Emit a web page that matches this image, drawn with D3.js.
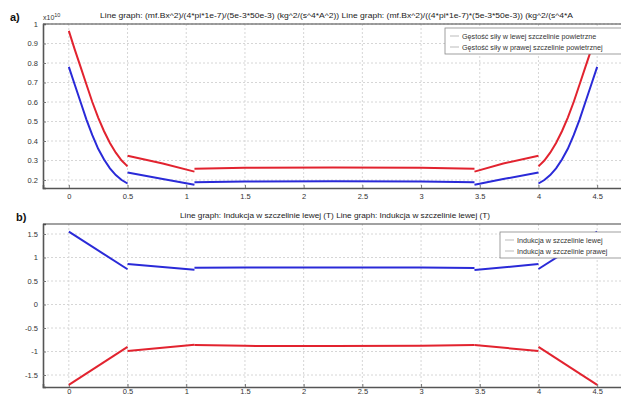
<!DOCTYPE html>
<html>
<head>
<meta charset="utf-8">
<script src="https://cdn.jsdelivr.net/npm/d3@7"></script>
<style>
  body { margin: 0; background: #fff; }
  svg text { font-family: "Liberation Sans", Arial, sans-serif; }
</style>
</head>
<body>
<svg id="chart" width="621" height="398"></svg>
<script>
// x ticks shared by both panels
const xTicks = [0, 0.5, 1, 1.5, 2, 2.5, 3, 3.5, 4, 4.5];

// panel a) force density (x10^10), pieces split at the gap edges
const yTicksTop = [0.2, 0.3, 0.4, 0.5, 0.6, 0.7, 0.8, 0.9, 1];
const forceLeft = [
  [[0, 0.78], [0.05, 0.69], [0.1, 0.6], [0.15, 0.51], [0.2, 0.43], [0.25, 0.36], [0.3, 0.305], [0.35, 0.26], [0.4, 0.225], [0.45, 0.2], [0.5, 0.182]],
  [[0.5, 0.238], [0.8, 0.205], [1.07, 0.176]],
  [[1.07, 0.188], [1.5, 0.192], [2.25, 0.193], [3.0, 0.192], [3.455, 0.188]],
  [[3.455, 0.176], [3.7, 0.205], [4.0, 0.238]],
  [[4.0, 0.182], [4.05, 0.2], [4.1, 0.225], [4.15, 0.26], [4.2, 0.305], [4.25, 0.36], [4.3, 0.43], [4.35, 0.51], [4.4, 0.6], [4.45, 0.69], [4.5, 0.78]]
];
const forceRight = [
  [[0, 0.965], [0.05, 0.87], [0.1, 0.78], [0.15, 0.69], [0.2, 0.6], [0.25, 0.52], [0.3, 0.45], [0.35, 0.39], [0.4, 0.34], [0.45, 0.3], [0.5, 0.27]],
  [[0.5, 0.324], [0.8, 0.285], [1.07, 0.243]],
  [[1.07, 0.258], [1.5, 0.263], [2.25, 0.264], [3.0, 0.263], [3.455, 0.258]],
  [[3.455, 0.243], [3.7, 0.285], [4.0, 0.324]],
  [[4.0, 0.27], [4.05, 0.3], [4.1, 0.34], [4.15, 0.39], [4.2, 0.45], [4.25, 0.52], [4.3, 0.6], [4.35, 0.69], [4.4, 0.78], [4.45, 0.87], [4.5, 0.965]]
];

// panel b) flux density (T)
const yTicksBottom = [-1.5, -1, -0.5, 0, 0.5, 1, 1.5];
const inductionLeft = [
  [[0, 1.55], [0.5, 0.75]],
  [[0.5, 0.86], [1.07, 0.74]],
  [[1.07, 0.78], [1.5, 0.785], [2.25, 0.785], [3.0, 0.785], [3.455, 0.776]],
  [[3.455, 0.735], [4.0, 0.86]],
  [[4.0, 0.755], [4.5, 1.55]]
];
const inductionRight = [
  [[0, -1.71], [0.5, -0.9]],
  [[0.5, -0.99], [1.07, -0.855]],
  [[1.07, -0.86], [1.5, -0.88], [2.25, -0.885], [3.0, -0.88], [3.455, -0.86]],
  [[3.455, -0.86], [4.0, -0.99]],
  [[4.0, -0.9], [4.5, -1.71]]
];

const titleTop = "Line graph: (mf.Bx^2)/(4*pi*1e-7)/(5e-3*50e-3) (kg^2/(s^4*A^2)) Line graph: (mf.Bx^2)/((4*pi*1e-7)*(5e-3*50e-3)) (kg^2/(s^4*A";
const titleBottom = "Line graph: Indukcja w szczelinie lewej (T) Line graph: Indukcja w szczelinie lewej (T)";
const legendTop = ["Gęstość siły w lewej szczelinie powietrzne", "Gęstość siły w prawej szczelinie powietrznej"];
const legendBottom = ["Indukcja w szczelinie lewej", "Indukcja w szczelinie prawej"];

const svg = d3.select("#chart");
const blue = "#2a2ad8";
const red = "#e2232f";

function drawPanel(opt) {
  const x = d3.scaleLinear().domain([-0.22, 4.72]).range([43, 623]);
  const y = d3.scaleLinear().domain(opt.yDomain).range([opt.bottom, opt.top]);
  const g = svg.append("g");

  // grid
  g.selectAll(".vg").data(xTicks).enter().append("line")
    .attr("x1", d => x(d)).attr("x2", d => x(d))
    .attr("y1", opt.top).attr("y2", opt.bottom)
    .attr("stroke", "#d6d6d6").attr("stroke-dasharray", "2,2");
  g.selectAll(".hg").data(opt.yTicks).enter().append("line")
    .attr("x1", 43).attr("x2", 621)
    .attr("y1", d => y(d)).attr("y2", d => y(d))
    .attr("stroke", "#d6d6d6").attr("stroke-dasharray", "2,2");

  // axes (plain hyphen minus, as in the original)
  const fmt = d => String(d);
  const xa = g.append("g").attr("transform", "translate(0," + opt.bottom + ")")
    .call(d3.axisBottom(x).tickValues(xTicks).tickSize(-3).tickPadding(opt.xPad).tickFormat(fmt));
  const ya = g.append("g").attr("transform", "translate(43,0)")
    .call(d3.axisLeft(y).tickValues(opt.yTicks).tickSize(-3).tickPadding(5).tickFormat(fmt));
  [xa, ya].forEach(a => {
    a.select(".domain").attr("stroke", "#555").attr("stroke-width", 1.6);
    a.selectAll(".tick line").attr("stroke", "#777");
    a.selectAll("text").attr("font-size", 7.5).attr("fill", "#333")
      .style("font-family", "'Liberation Sans', Arial, sans-serif");
  });
  g.append("line").attr("x1", 43).attr("x2", 621)
    .attr("y1", opt.top).attr("y2", opt.top)
    .attr("stroke", "#444").attr("stroke-width", 1.2);

  // series
  const line = d3.line().x(d => x(d[0])).y(d => y(d[1]));
  opt.series.forEach(s => {
    g.selectAll(null).data(s.pieces).enter().append("path")
      .attr("d", line).attr("fill", "none")
      .attr("stroke", s.color).attr("stroke-width", 2);
  });

  // title
  g.append("text").attr("x", opt.titleX).attr("y", opt.top - 6)
    .attr("font-size", 7.5).attr("fill", "#222")
    .attr("textLength", opt.titleW).attr("lengthAdjust", "spacingAndGlyphs")
    .text(opt.title);

  // panel label
  g.append("text").attr("x", opt.labelX).attr("y", opt.top - 3)
    .attr("font-size", 11).attr("font-weight", "bold").attr("fill", "#111")
    .text(opt.label);

  // legend
  const lg = g.append("g");
  lg.append("rect").attr("x", opt.legX).attr("y", opt.legY)
    .attr("width", 640 - opt.legX).attr("height", 26)
    .attr("fill", "#fff").attr("stroke", "#888").attr("stroke-width", 0.8);
  opt.legend.forEach((t, i) => {
    const ly = opt.legY + 8 + i * 11;
    lg.append("line").attr("x1", opt.legX + 5).attr("x2", opt.legX + 14)
      .attr("y1", ly).attr("y2", ly).attr("stroke", "#bbb");
    lg.append("text").attr("x", opt.legX + 17).attr("y", ly + 2.5)
      .attr("font-size", 7.2).attr("fill", "#333").text(t);
  });
  return { x, y };
}

drawPanel({
  top: 24, bottom: 188, yDomain: [0.159, 1.0], yTicks: yTicksTop, xPad: 6,
  series: [{ pieces: forceLeft, color: blue }, { pieces: forceRight, color: red }],
  title: titleTop, titleX: 100, titleW: 473, label: "a)", labelX: 10,
  legend: legendTop, legX: 445, legY: 28
});
svg.append("text").attr("x", 43).attr("y", 20).attr("font-size", 7).attr("fill", "#333")
  .html('x10<tspan dy="-3" font-size="5.5">10</tspan>');

drawPanel({
  top: 224, bottom: 387, yDomain: [-1.755, 1.713], yTicks: yTicksBottom, xPad: 2,
  series: [{ pieces: inductionLeft, color: blue }, { pieces: inductionRight, color: red }],
  title: titleBottom, titleX: 180, titleW: 310, label: "b)", labelX: 16,
  legend: legendBottom, legX: 500, legY: 232
});
</script>
</body>
</html>
